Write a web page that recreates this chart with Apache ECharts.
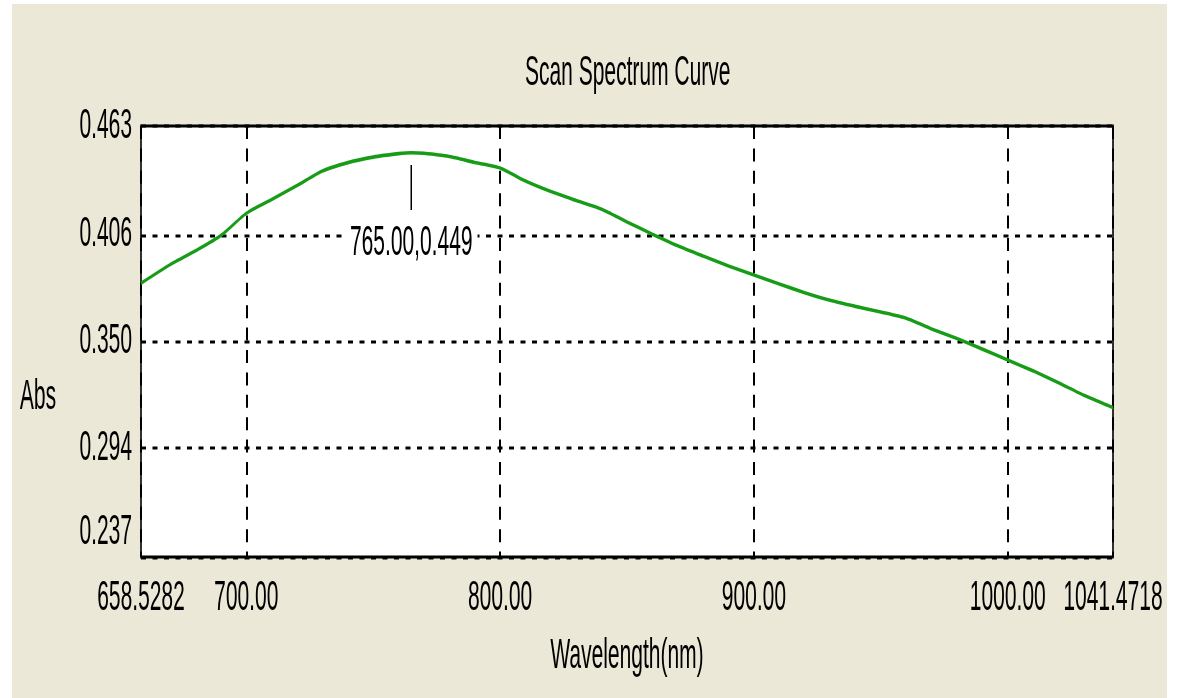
<!DOCTYPE html>
<html>
<head>
<meta charset="utf-8">
<title>Scan Spectrum Curve</title>
<script src="https://cdn.jsdelivr.net/npm/echarts@6/dist/echarts.min.js"></script>
<style>
  html, body { margin: 0; padding: 0; background: #ffffff; width: 1177px; height: 698px; overflow: hidden; }
  /* The plot is laid out at half height and stretched 2x vertically,
     giving the tall, narrow instrument-software lettering. */
  #chart {
    position: absolute; left: 12px; top: 4px;
    width: 1155px; height: 347px;
    transform: scaleY(2); transform-origin: 0 0;
  }
</style>
</head>
<body>
<div id="chart"></div>
<script>
// Absorbance scan, wavelength in nm
const wavelengths = [658.5282, 670, 680, 690, 700, 710, 720, 730, 740, 750, 760, 765, 770, 780, 790,
  800, 810, 820, 830, 840, 850, 860, 870, 880, 890, 900, 910, 920, 930, 940, 950, 960, 970, 980, 990,
  1000, 1010, 1020, 1030, 1040, 1041.4718];
const absorbance = [0.3805, 0.3903, 0.3976, 0.4056, 0.4172, 0.4245, 0.4318, 0.4394, 0.4438, 0.4467, 0.4485, 0.4490, 0.4487, 0.4470, 0.4439,
  0.4410, 0.4341, 0.4286, 0.4239, 0.4194, 0.4127, 0.4063, 0.4002, 0.3948, 0.3896, 0.3849, 0.3802, 0.3756, 0.3716, 0.3684, 0.3655, 0.3622, 0.3566, 0.3516, 0.3460,
  0.3403, 0.3346, 0.3284, 0.3218, 0.3162, 0.3154];

const xTickValues = [658.5282, 700, 800, 900, 1000, 1041.4718];
const xTickLabels = ['658.5282', '700.00', '800.00', '900.00', '1000.00', '1041.4718'];
const yTickValues = [0.237, 0.294, 0.350, 0.406, 0.463];
const yTickLabels = ['0.237', '0.294', '0.350', '0.406', '0.463'];

// Marked peak: wavelength, absorbance
const peak = [765.00, 0.449];

const FONT = 'Liberation Sans';
const FS = 21;

function labelFor(values, labels, v) {
  const i = values.findIndex(t => Math.abs(t - v) < 1e-6);
  return i >= 0 ? labels[i] : '';
}

const chart = echarts.init(document.getElementById('chart'), null, { renderer: 'canvas', devicePixelRatio: 2 });

chart.setOption({
  animation: false,
  backgroundColor: '#EBE8D8',
  textStyle: { fontFamily: FONT, fontSize: FS, color: '#000' },
  title: {
    text: 'Scan Spectrum Curve',
    left: 513, top: 24, padding: 0,
    textStyle: { fontFamily: FONT, fontSize: FS, fontWeight: 'normal', color: '#000' }
  },
  grid: {
    left: 129, top: 61, width: 972, height: 215.5,
    show: true, backgroundColor: '#ffffff', borderColor: '#000', borderWidth: 1.6,
    outerBoundsMode: 'none'
  },
  xAxis: {
    type: 'value',
    min: xTickValues[0], max: xTickValues[xTickValues.length - 1],
    name: 'Wavelength(nm)', nameLocation: 'middle', nameGap: 39,
    nameTextStyle: { fontFamily: FONT, fontSize: FS, color: '#000' },
    axisLine: { show: false },
    axisTick: { show: false, customValues: xTickValues },
    axisLabel: {
      customValues: xTickValues, margin: 10,
      fontFamily: FONT, fontSize: FS, color: '#000',
      formatter: v => labelFor(xTickValues, xTickLabels, v)
    },
    splitLine: { show: true, lineStyle: { color: '#000', width: 2, type: [6.5, 4.7] } }
  },
  yAxis: {
    type: 'value',
    min: yTickValues[0], max: yTickValues[yTickValues.length - 1],
    name: '{lowered|Abs}', nameLocation: 'middle', nameRotate: 0, nameGap: 103,
    nameTextStyle: {
      fontFamily: FONT, fontSize: FS, color: '#000', align: 'center', verticalAlign: 'middle',
      rich: { lowered: { fontFamily: FONT, fontSize: FS, color: '#000', padding: [56, 0, 0, 0] } }
    },
    axisLine: { show: false },
    axisTick: { show: false, customValues: yTickValues },
    axisLabel: {
      customValues: yTickValues, margin: 9,
      fontFamily: FONT, fontSize: FS, color: '#000',
      formatter: v => {
        const s = labelFor(yTickValues, yTickLabels, v);
        return v === yTickValues[0] ? '{low|' + s + '}' : s;
      },
      rich: { low: { fontFamily: FONT, fontSize: FS, color: '#000', padding: [0, 0, 25, 0] } }
    },
    splitLine: { show: true, lineStyle: { color: '#000', width: 1.6, type: [5, 6.5] } }
  },
  series: [{
    type: 'line',
    data: wavelengths.map((w, i) => [w, absorbance[i]]),
    showSymbol: false,
    smooth: 0.25,
    lineStyle: { color: '#169c16', width: 1.8 },
    itemStyle: { color: '#169c16' },
    markPoint: {
      silent: true,
      symbol: 'rect',
      symbolSize: [1.5, 22.5],
      symbolOffset: [0, 17.4],
      itemStyle: { color: '#000' },
      label: {
        show: true, position: 'inside', offset: [0, 28.2],
        fontFamily: FONT, fontSize: FS, color: '#000',
        backgroundColor: '#ffffff', padding: [0, 5],
        formatter: () => peak[0].toFixed(2) + ',' + peak[1].toFixed(3)
      },
      data: [{ coord: peak }]
    }
  }]
});
</script>
</body>
</html>
